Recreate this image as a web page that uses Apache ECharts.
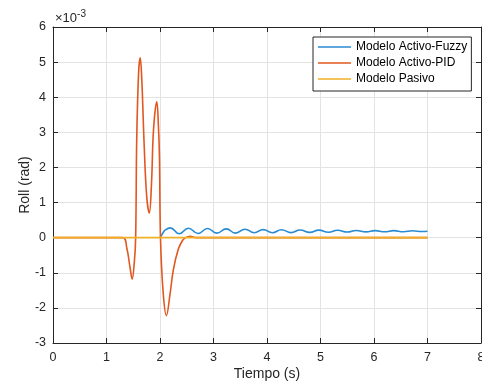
<!DOCTYPE html>
<html>
<head>
<meta charset="utf-8">
<script src="https://cdn.jsdelivr.net/npm/echarts@6/dist/echarts.min.js"></script>
<style>html,body{margin:0;padding:0;background:#fff;overflow:hidden;}#c{width:482px;height:381px;}</style>
</head>
<body>
<div id="c"></div>
<script>
// Tiempo (s) and Roll (x1e-3 rad)
const fuzzyT = [2.0, 2.05, 2.1, 2.19, 2.36, 2.53, 2.71, 2.89, 3.06, 3.24, 3.41, 3.59, 3.76, 3.93, 4.10, 4.27, 4.45, 4.62, 4.80, 4.97, 5.15, 5.32, 5.50, 5.67, 5.85, 6.02, 6.20, 6.37, 6.55, 6.72, 6.90, 7.0];
const fuzzyY = [0, 0.12, 0.22, 0.28, 0.11, 0.27, 0.12, 0.26, 0.13, 0.25, 0.13, 0.24, 0.14, 0.23, 0.14, 0.225, 0.145, 0.22, 0.15, 0.215, 0.155, 0.21, 0.16, 0.205, 0.165, 0.20, 0.17, 0.20, 0.17, 0.195, 0.175, 0.185];
const pidT = [0, 1.30, 1.38, 1.44, 1.48, 1.52, 1.545, 1.565, 1.60, 1.63, 1.66, 1.70, 1.75, 1.80, 1.84, 1.88, 1.94, 1.97, 1.99, 2.01, 2.06, 2.12, 2.19, 2.25, 2.34, 2.42, 2.48, 2.56, 2.68, 7.0];
const pidY = [0, 0, -0.3, -0.85, -1.18, -0.7, 0, 2.8, 4.7, 5.12, 4.5, 2.8, 1.2, 0.70, 1.5, 3.1, 3.87, 3.2, 2.3, -0.06, -1.58, -2.22, -1.58, -0.91, -0.34, -0.08, 0, 0.04, 0, 0];
const pasivoT = [0, 7.0];
const pasivoY = [0, 0];
const seriesNames = ['Modelo Activo-Fuzzy', 'Modelo Activo-PID', 'Modelo Pasivo'];
const xTicks = [0, 1, 2, 3, 4, 5, 6, 7, 8];
const yTicks = [-3, -2, -1, 0, 1, 2, 3, 4, 5, 6];

const zip = (a, b) => a.map((v, i) => [v, b[i]]);
const font = 'Liberation Sans, Arial, sans-serif';
const axisCol = '#262626';
const el = document.getElementById('c');
const chart = echarts.init(el, null, {renderer: 'canvas', width: 482, height: 381});
const baseAxis = {
  axisLine: {show: true, onZero: false, lineStyle: {color: axisCol, width: 1}},
  axisTick: {show: true, inside: true, length: 5, lineStyle: {color: axisCol}},
  nameMoveOverlap: false,
};
const legendIcon = 'path://M0,0 L33,0 L33,1.6 L0,1.6 Z';
chart.setOption({
  backgroundColor: '#ffffff',
  animation: false,
  textStyle: {fontFamily: font},
  grid: {left: 53, right: 1, top: 27, bottom: 38, containLabel: false, outerBoundsMode: 'none'},
  legend: {
    data: seriesNames.map(n => ({name: n, icon: legendIcon})),
    orient: 'vertical',
    left: 313, top: 37,
    backgroundColor: '#ffffff',
    borderColor: axisCol, borderWidth: 1,
    padding: [4, 4, 6, 5],
    itemWidth: 33, itemHeight: 2, itemGap: 4,
    textStyle: {fontSize: 12, color: '#000', fontFamily: font, lineHeight: 12},
  },
  graphic: [{
    type: 'text', left: 55, top: 9,
    style: {
      text: '{a|×10}{b|-3}',
      rich: {
        a: {fontSize: 13, fill: axisCol, fontFamily: font},
        b: {fontSize: 10, fill: axisCol, fontFamily: font, verticalAlign: 'top', padding: [0, 0, 8, 0]}
      }
    }
  }],
  xAxis: [
    Object.assign({}, baseAxis, {
      type: 'value', min: 0, max: 8, interval: 1, position: 'bottom',
      name: 'Tiempo (s)', nameLocation: 'middle', nameGap: 24,
      nameTextStyle: {fontSize: 14, color: axisCol, fontFamily: font},
      axisLabel: {fontSize: 12.5, color: axisCol, margin: 8, fontFamily: font, hideOverlap: false,
        formatter: v => xTicks.includes(v) ? String(v) : ''},
      splitLine: {show: true, lineStyle: {color: '#e3e3e3', width: 1}},
    }),
    Object.assign({}, baseAxis, {
      type: 'value', min: 0, max: 8, interval: 1, position: 'top',
      axisLabel: {show: false}, splitLine: {show: false},
    })
  ],
  yAxis: [
    Object.assign({}, baseAxis, {
      type: 'value', min: -3, max: 6, interval: 1, position: 'left',
      name: 'Roll (rad)', nameLocation: 'middle', nameGap: 21,
      nameTextStyle: {fontSize: 14, color: axisCol, fontFamily: font},
      axisLabel: {fontSize: 12.5, color: axisCol, margin: 7, fontFamily: font,
        formatter: v => yTicks.includes(v) ? String(v) : ''},
      splitLine: {show: true, lineStyle: {color: '#e3e3e3', width: 1}},
    }),
    Object.assign({}, baseAxis, {
      type: 'value', min: -3, max: 6, interval: 1, position: 'right',
      axisLabel: {show: false}, splitLine: {show: false},
    })
  ],
  series: [
    {name: seriesNames[0], type: 'line', data: zip(fuzzyT, fuzzyY), smooth: 0.5, symbol: 'none',
     lineStyle: {color: '#2a8ad2', width: 1.6}, itemStyle: {color: '#2a8ad2'}, z: 2},
    {name: seriesNames[1], type: 'line', data: zip(pidT, pidY), smooth: 0.4, symbol: 'none',
     lineStyle: {color: '#e2571f', width: 1.6}, itemStyle: {color: '#e2571f'}, z: 3},
    {name: seriesNames[2], type: 'line', data: zip(pasivoT, pasivoY), symbol: 'none',
     lineStyle: {color: '#f0b024', width: 1.8}, itemStyle: {color: '#f0b024'}, z: 4},
  ]
});
</script>
</body>
</html>
